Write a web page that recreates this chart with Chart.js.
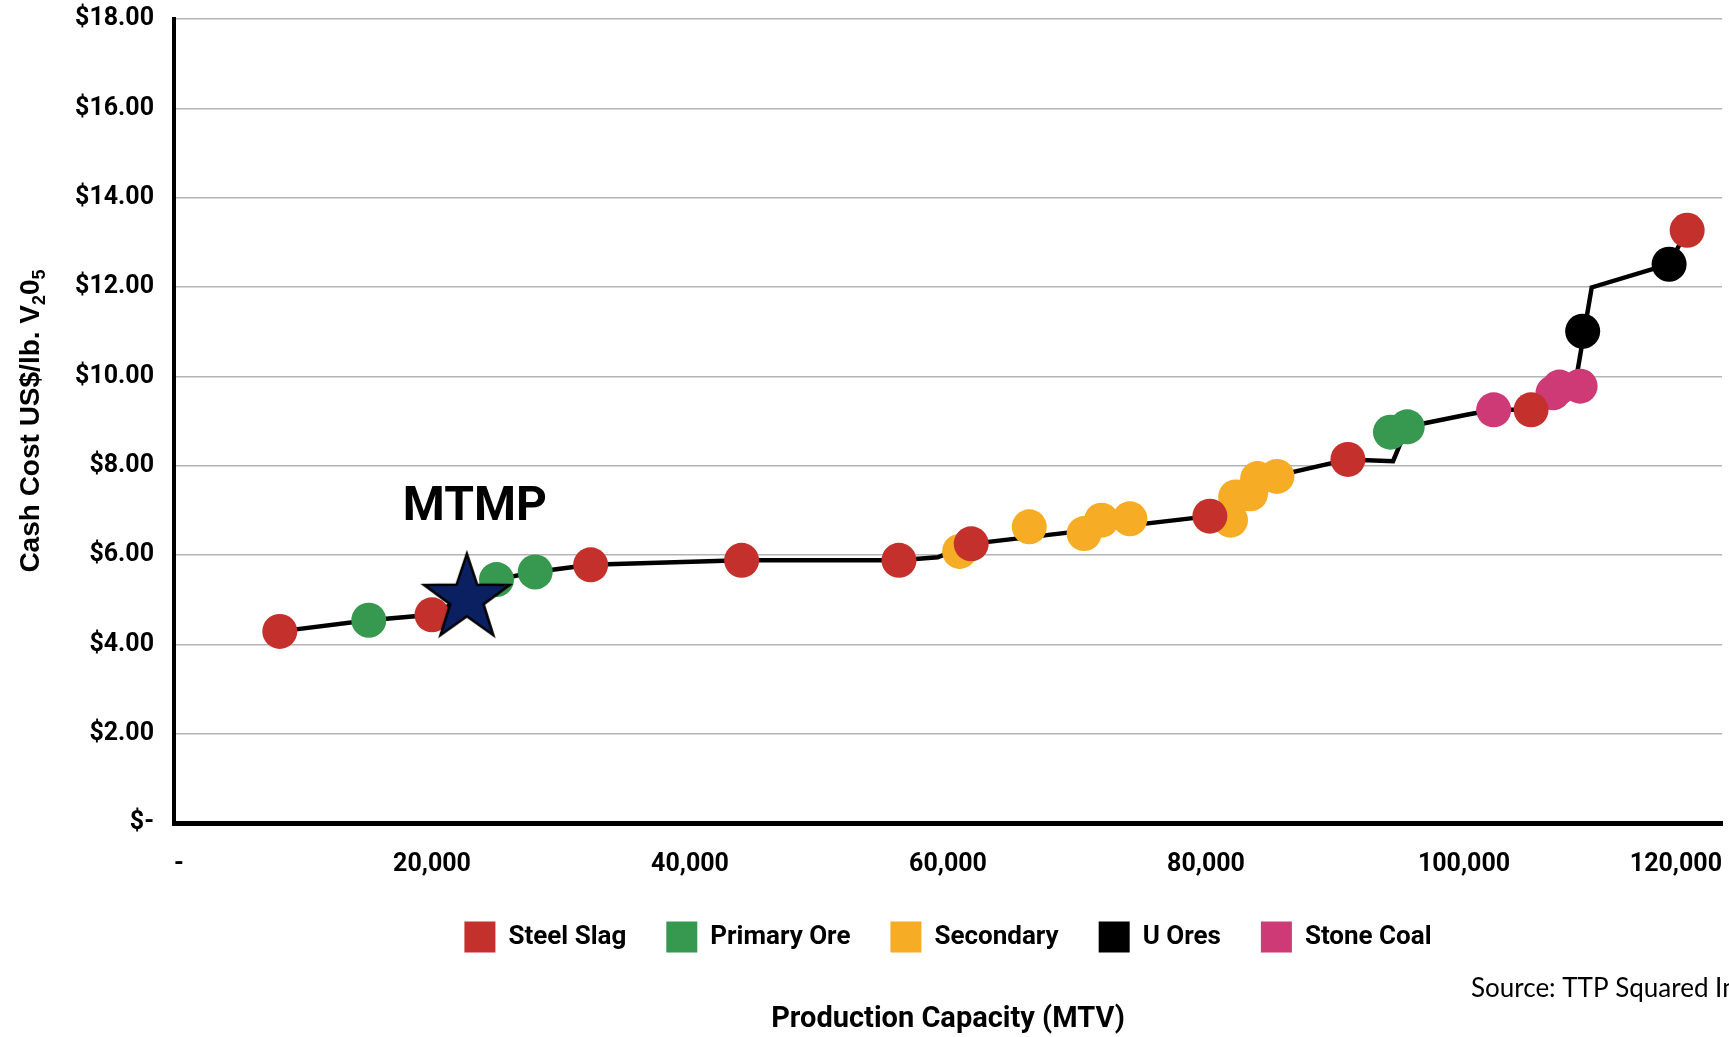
<!DOCTYPE html>
<html>
<head>
<meta charset="utf-8">
<script src="https://cdn.jsdelivr.net/npm/chart.js@4.4.1/dist/chart.umd.min.js"></script>
<style>
  html, body { margin: 0; padding: 0; background: #fff; overflow: hidden; }
  canvas { display: block; }
</style>
</head>
<body>
<canvas id="costCurve" width="1729" height="1037"></canvas>
<script>
// production capacity (MTV) / cash cost US$ per lb V2O5
const slagX = [8200, 20000, 32300, 44000, 56200, 61800, 80300, 91000, 105200, 117300];
const slagY = [4.29, 4.66, 5.78, 5.88, 5.88, 6.25, 6.87, 8.14, 9.25, 13.27];

const primaryX = [15100, 25000, 28000, 94300, 95600];
const primaryY = [4.54, 5.45, 5.62, 8.75, 8.87];

const secondaryX = [60900, 66300, 70550, 71900, 74100, 81900, 82300, 83450, 84000, 85500];
const secondaryY = [6.08, 6.63, 6.48, 6.78, 6.81, 6.78, 7.30, 7.37, 7.71, 7.76];

const uOresX = [109200, 115900];
const uOresY = [11.01, 12.51];

const stoneCoalX = [102300, 106900, 107400, 109000];
const stoneCoalY = [9.25, 9.63, 9.76, 9.78];

// cost curve vertices
const curveX = [8200, 15100, 20000, 25000, 28000, 32300, 44000, 56200, 59200, 61800, 80300, 86800, 91000, 94500, 95600, 100200, 102300, 105200, 107000, 108600, 109900, 115900, 117300];
const curveY = [4.29, 4.54, 4.66, 5.45, 5.62, 5.78, 5.88, 5.88, 5.95, 6.25, 6.87, 7.86, 8.14, 8.10, 8.87, 9.14, 9.25, 9.25, 9.65, 9.78, 11.99, 12.51, 13.27];

const mtmpX = [22700];
const mtmpY = [5.02];

const xTicks = [0, 20000, 40000, 60000, 80000, 100000, 120000];
const legendNames = ['Steel Slag', 'Primary Ore', 'Secondary', 'U Ores', 'Stone Coal'];

const pts = (xs, ys) => xs.map((x, i) => ({ x: x, y: ys[i] }));

// filled 5-point star used as the MTMP marker
function makeStar() {
    const c = document.createElement('canvas');
    c.width = 100; c.height = 100;
    const g = c.getContext('2d');
    const R = 45, r = 45 * 0.39;
    g.beginPath();
    for (let i = 0; i < 10; i++) {
        const rad = i % 2 === 0 ? R : r;
        const a = -Math.PI / 2 + i * Math.PI / 5;
        const px = 50 + rad * Math.cos(a), py = 50 + rad * Math.sin(a);
        if (i === 0) g.moveTo(px, py); else g.lineTo(px, py);
    }
    g.closePath();
    g.fillStyle = '#0b2060';
    g.fill();
    g.lineWidth = 2.5;
    g.strokeStyle = '#000';
    g.stroke();
    return c;
}

const boldFont = (size) => ({ family: 'Roboto, "Liberation Sans", sans-serif', weight: 'bold', size: size });

function dotSet(label, xs, ys, color, order) {
    return {
        label: label,
        data: pts(xs, ys),
        backgroundColor: color,
        borderColor: color,
        borderWidth: 0,
        pointRadius: 17.5,
        pointHoverRadius: 17.5,
        order: order
    };
}

const extraText = {
    id: 'extraText',
    afterLayout(chart) {
        // let the y tick labels use the space left of the plot
        const y = chart.scales.y;
        y.left = 0;
        y.width = y.right;
    },
    afterDatasetsDraw(chart) {
        const ctx = chart.ctx;
        const star = chart.getDatasetMeta(5).data[0];
        ctx.save();
        ctx.fillStyle = '#000';
        ctx.font = 'bold 48px Roboto, "Liberation Sans", sans-serif';
        ctx.textAlign = 'center';
        ctx.textBaseline = 'alphabetic';
        ctx.fillText('MTMP', star.x + 8, star.y - 79);
        ctx.restore();
    },
    afterDraw(chart) {
        const ctx = chart.ctx;
        const area = chart.chartArea;
        ctx.save();
        ctx.fillStyle = '#000';

        // y axis title with subscripts
        const big = 'bold 28px "Liberation Sans", Arial, sans-serif';
        const small = 'bold 18px "Liberation Sans", Arial, sans-serif';
        const parts = [['Cash Cost US$/lb. V', big, 0], ['2', small, 6], ['0', big, 0], ['5', small, 6]];
        let total = 0;
        parts.forEach(p => { ctx.font = p[1]; total += ctx.measureText(p[0]).width; });
        ctx.translate(39, 421);
        ctx.rotate(-Math.PI / 2);
        ctx.textAlign = 'left';
        ctx.textBaseline = 'alphabetic';
        let cx = -total / 2;
        parts.forEach(p => {
            ctx.font = p[1];
            ctx.fillText(p[0], cx, p[2]);
            cx += ctx.measureText(p[0]).width;
        });
        ctx.setTransform(1, 0, 0, 1, 0, 0);

        // x axis title
        ctx.font = 'bold 29px Roboto, "Liberation Sans", sans-serif';
        ctx.textAlign = 'center';
        ctx.fillText('Production Capacity (MTV)', (area.left + area.right) / 2, 1027);

        // source note, runs off the right edge like the original
        ctx.font = '26px Lato, "Open Sans", sans-serif';
        ctx.textAlign = 'left';
        ctx.fillText('Source: TTP Squared Inc.', 1471, 997);
        ctx.restore();
    }
};

new Chart(document.getElementById('costCurve').getContext('2d'), {
    type: 'scatter',
    data: {
        datasets: [
            dotSet('Steel Slag', slagX, slagY, '#c4302b', 1),
            dotSet('Primary Ore', primaryX, primaryY, '#37984f', 2),
            dotSet('Secondary', secondaryX, secondaryY, '#f6ac24', 3),
            dotSet('U Ores', uOresX, uOresY, '#000000', 4),
            dotSet('Stone Coal', stoneCoalX, stoneCoalY, '#cd3a75', 5),
            {
                label: 'MTMP',
                data: pts(mtmpX, mtmpY),
                pointStyle: makeStar(),
                order: 0
            },
            {
                label: 'curve',
                data: pts(curveX, curveY),
                showLine: true,
                borderColor: '#000',
                borderWidth: 4.5,
                pointRadius: 0,
                pointHoverRadius: 0,
                tension: 0,
                order: 10
            }
        ]
    },
    options: {
        responsive: false,
        animation: false,
        layout: { autoPadding: false, padding: { left: 174, right: 7, top: 19, bottom: 74.5 } },
        plugins: {
            tooltip: { enabled: false },
            legend: {
                position: 'bottom',
                labels: {
                    font: boldFont(26),
                    color: '#000',
                    boxWidth: 31,
                    boxHeight: 31,
                    padding: 40,
                    filter: item => legendNames.includes(item.text)
                }
            }
        },
        scales: {
            x: {
                type: 'linear',
                min: 0,
                max: 120000,
                grid: { display: false, drawTicks: false },
                border: { display: true, color: '#000', width: 5 },
                afterBuildTicks: s => { s.ticks = xTicks.map(v => ({ value: v })); },
                ticks: {
                    align: 'inner',
                    padding: 27,
                    maxRotation: 0,
                    autoSkip: false,
                    color: '#000',
                    font: boldFont(25),
                    callback: v => v === 0 ? '-' : v.toLocaleString('en-US')
                },
                afterFit: s => {
                    s.height = 58.5;
                    s.paddingLeft = 0;
                    s.paddingRight = 0;
                }
            },
            y: {
                min: 0,
                max: 18,
                grid: { color: '#b4b4b4', lineWidth: 1.5, drawTicks: false },
                border: { display: true, color: '#000', width: 4 },
                ticks: {
                    stepSize: 2,
                    padding: 20,
                    color: '#000',
                    font: boldFont(25),
                    callback: v => v === 0 ? '$-' : '$' + v.toFixed(2)
                },
                afterFit: s => {
                    s.width = 0;
                    s.paddingTop = 0;
                    s.paddingBottom = 0;
                }
            }
        }
    },
    plugins: [extraText]
});
</script>
</body>
</html>
